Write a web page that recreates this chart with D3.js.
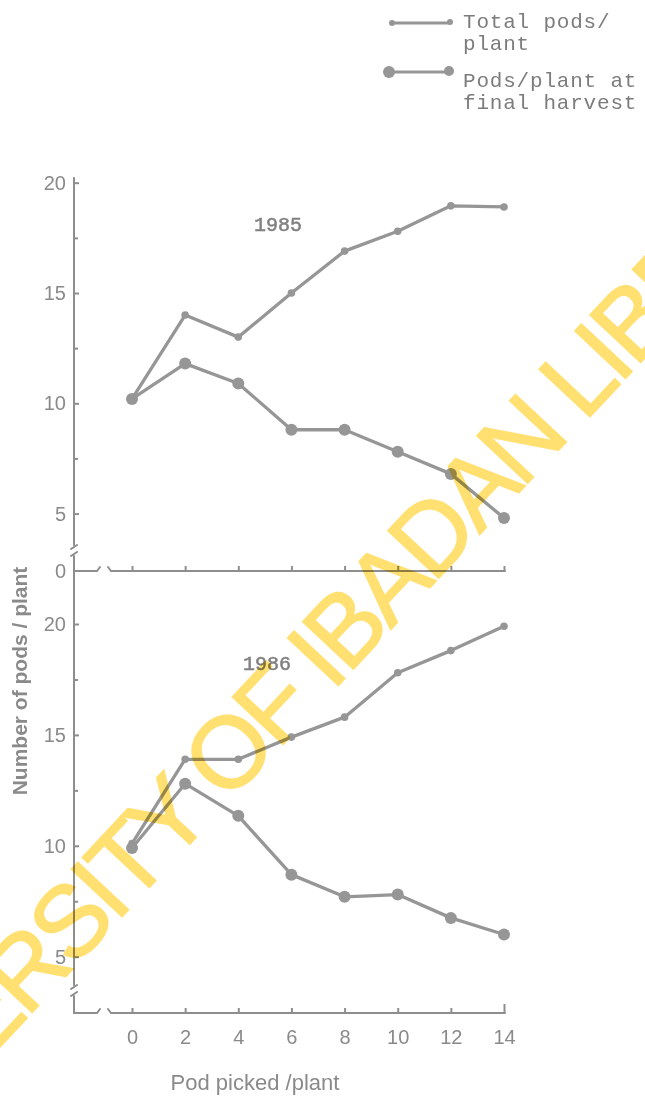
<!DOCTYPE html>
<html>
<head>
<meta charset="utf-8">
<script src="https://cdn.jsdelivr.net/npm/d3@7"></script>
<style>
  html, body { margin: 0; padding: 0; background: #ffffff; }
  svg { display: block; }
  .tick line { stroke: #8e8e8e; stroke-width: 2; }
  .tick text { fill: #8a8a8a; font-family: "Liberation Sans", Arial, sans-serif; font-size: 20px; }
</style>
</head>
<body>
<svg id="chart" width="645" height="1097"></svg>
<script>
// Pods picked per plant (x) and the two measured series for each season
const podsPicked = [0, 2, 4, 6, 8, 10, 12, 14];
const total1985 = [10.2, 14.0, 13.0, 15.0, 16.9, 17.8, 18.95, 18.9];
const final1985 = [10.2, 11.8, 10.9, 8.8, 8.8, 7.8, 6.8, 4.8];
const total1986 = [10.1, 13.9, 13.9, 14.9, 15.8, 17.8, 18.8, 19.9];
const final1986 = [9.9, 12.8, 11.35, 8.7, 7.7, 7.8, 6.75, 6.0];
const years = ["1985", "1986"];
const yMajorTicks = [5, 10, 15, 20];
const yMinorTicks = [7.5, 12.5, 17.5];
const legendLabels = [["Total pods/", "plant"], ["Pods/plant at", "final harvest"]];
const xTitle = "Pod picked /plant";
const yTitle = "Number of pods / plant";
const watermark = "UNIVERSITY OF IBADAN LIBRARY";

const svg = d3.select("#chart");
const ink = "#969696";
const textInk = "#8a8a8a";
const axisX = 74;

const x = d3.scaleLinear().domain([0, 14]).range([132, 504]);

const panels = [
  { year: years[0], total: total1985, final: final1985, yRange: [513.6, 182.7], baseY: 571, yearPos: [278, 231] },
  { year: years[1], total: total1986, final: final1986, yRange: [956.7, 624.0], baseY: 1013, yearPos: [267, 670] }
];

// Continuous vertical axis with breaks above each zero line
const axisG = svg.append("g").attr("fill", "none").attr("stroke", "#8e8e8e").attr("stroke-width", 2).attr("stroke-linecap", "round");
axisG.append("path").attr("d", `M${axisX},178 V545 M${axisX - 3},549 L${axisX + 3},545 M${axisX - 3},556 L${axisX + 3},552 M${axisX},556 V985 M${axisX - 3},989 L${axisX + 3},985 M${axisX - 3},996 L${axisX + 3},992 M${axisX},996 V1013`);

panels.forEach((p, i) => {
  const y = d3.scaleLinear().domain([5, 20]).range(p.yRange);
  const g = svg.append("g");

  // horizontal axis with a break near the origin
  axisG.append("path").attr("d",
    `M${axisX},${p.baseY} H97 L100,${p.baseY - 4} M108,${p.baseY - 4} L111,${p.baseY} H505`);

  // y ticks point right, labels sit to the left of the axis
  g.append("g").attr("transform", `translate(${axisX},0)`)
    .call(d3.axisRight(y).tickValues(yMajorTicks).tickSize(5).tickPadding(-13).tickFormat(d3.format("d")))
    .call(s => s.select(".domain").remove())
    .call(s => s.selectAll("text").attr("text-anchor", "end"));
  g.append("g").attr("transform", `translate(${axisX},0)`)
    .call(d3.axisRight(y).tickValues(yMinorTicks).tickSize(4).tickFormat(""))
    .call(s => s.select(".domain").remove());

  // x ticks point up from each baseline
  const xa = d3.axisBottom(x).tickValues(podsPicked).tickSizeInner(-5).tickSizeOuter(0).tickPadding(17);
  const xg = g.append("g").attr("transform", `translate(0,${p.baseY})`).call(xa);
  xg.select(".domain").remove();
  if (i === 0) {
    xg.selectAll("text").remove();
    g.append("text").attr("x", axisX - 8).attr("y", p.baseY).attr("dy", "0.34em")
      .attr("text-anchor", "end").attr("fill", textInk)
      .style("font-family", "Liberation Sans, Arial, sans-serif").style("font-size", "20px").text("0");
  } else {
    xg.selectAll(".tick line").filter(d => d === 14).attr("y2", -9);
  }

  // series lines
  const line = d3.line().x((d, k) => x(podsPicked[k])).y(d => y(d));
  [p.total, p.final].forEach(vals => {
    g.append("path").datum(vals).attr("d", line)
      .attr("fill", "none").attr("stroke", ink).attr("stroke-width", 3.3).attr("stroke-linejoin", "round");
  });
  g.selectAll(null).data(p.total).join("circle")
    .attr("cx", (d, k) => x(podsPicked[k])).attr("cy", d => y(d)).attr("r", 3.8).attr("fill", ink);
  g.selectAll(null).data(p.final).join("circle")
    .attr("cx", (d, k) => x(podsPicked[k])).attr("cy", d => y(d)).attr("r", 6).attr("fill", ink);

  g.append("text").attr("x", p.yearPos[0]).attr("y", p.yearPos[1]).attr("text-anchor", "middle")
    .attr("fill", "#808080").attr("stroke", "#808080").attr("stroke-width", 0.5)
    .style("font-family", "Liberation Mono, Courier New, monospace")
    .style("font-size", "20px").text(p.year);
});

// axis titles
svg.append("text").attr("x", 255).attr("y", 1090).attr("text-anchor", "middle").attr("fill", textInk)
  .style("font-family", "Liberation Sans, Arial, sans-serif").style("font-size", "22px").text(xTitle);
svg.append("text").attr("transform", "translate(27,681) rotate(-90)").attr("text-anchor", "middle").attr("fill", textInk)
  .style("font-family", "Liberation Sans, Arial, sans-serif").style("font-size", "21px").style("font-weight", "bold").text(yTitle);

// legend
const legend = svg.append("g");
const legendRows = [
  { x1: 392, x2: 450, y: 23, r1: 3, r2: 3, ty: [28, 50] },
  { x1: 389, x2: 449, y: 72, r1: 6, r2: 5, ty: [87, 109] }
];
legendRows.forEach((row, i) => {
  legend.append("line").attr("x1", row.x1).attr("x2", row.x2).attr("y1", row.y).attr("y2", row.y)
    .attr("stroke", ink).attr("stroke-width", 3);
  legend.append("circle").attr("cx", row.x1).attr("cy", row.y).attr("r", row.r1).attr("fill", ink);
  legend.append("circle").attr("cx", row.x2).attr("cy", row.y - 1).attr("r", row.r2).attr("fill", ink);
  legendLabels[i].forEach((t, j) => {
    legend.append("text").attr("x", 463).attr("y", row.ty[j]).attr("fill", "#7c7c7c")
      .style("font-family", "Liberation Mono, Courier New, monospace").style("font-size", "21px")
      .style("letter-spacing", "0.8px").text(t);
  });
});

// diagonal library stamp across the page
svg.append("text").attr("transform", "translate(317,655) rotate(-46.9)")
  .attr("text-anchor", "middle").attr("dy", "0.36em")
  .attr("fill", "#ffe070").attr("stroke", "#ffe070").attr("stroke-width", 1.5)
  .style("mix-blend-mode", "multiply").style("letter-spacing", "-5px")
  .style("font-family", "Liberation Sans, Arial, sans-serif").style("font-size", "101px")
  .text(watermark);
</script>
</body>
</html>
